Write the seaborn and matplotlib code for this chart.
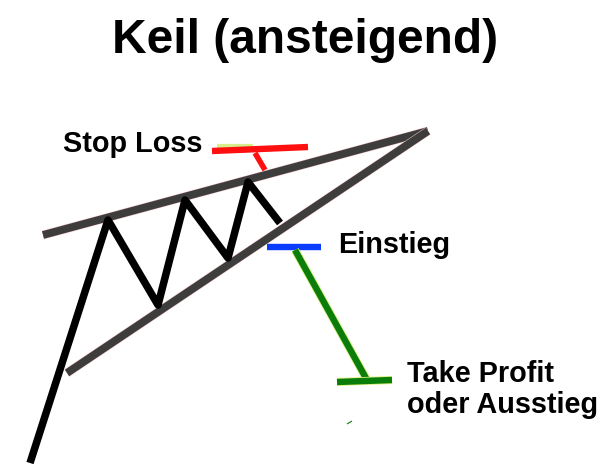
import matplotlib
matplotlib.use("Agg")
import matplotlib.pyplot as plt
import matplotlib.patheffects as pe
import seaborn as sns
import pandas as pd

# pixel-style coordinates of the sketch (y grows downward)
upper_x = [43, 428]
upper_y = [235, 131]
lower_x = [67, 428]
lower_y = [373, 131]

price_x = [30, 108, 158, 185, 228, 248, 280]
price_y = [463, 220, 305, 200, 258, 182, 223]

stop_x = [212, 308]
stop_y = [151, 147]
stop_stem_x = [255, 265]
stop_stem_y = [153, 170]
stop_glow_x = [217, 253]
stop_glow_y = [146, 146]

entry_x = [267, 321]
entry_y = [247, 247]

target_stem_x = [295, 367]
target_stem_y = [250, 380]
target_x = [337, 392]
target_y = [382, 380]
stray_x = [347, 352]
stray_y = [424, 421]

labels = ["Stop Loss", "Einstieg", "Take Profit\noder Ausstieg"]
label_x = [63, 338, 407]
label_y = [152, 253, 413]

title = "Keil (ansteigend)"

sns.set_theme(style="white")
plt.rcParams['font.family'] = ['Liberation Sans', 'DejaVu Sans']

fig = plt.figure(figsize=(6.11, 4.73), dpi=100)
ax = fig.add_axes([0, 0, 1, 1])

halo = [pe.Stroke(linewidth=6.3, foreground="#f3c4c4"), pe.Normal()]
green_glow = [pe.Stroke(linewidth=5.8, foreground="#d8f07a"), pe.Normal()]

def seg(xs, ys, color, lw, effects=None):
    df = pd.DataFrame({"x": xs, "y": ys})
    sns.lineplot(data=df, x="x", y="y", sort=False, estimator=None,
                 color=color, linewidth=lw, ax=ax,
                 solid_capstyle="butt", path_effects=effects)

seg(stop_glow_x, stop_glow_y, "#d6ef8a", 3.0)
seg(upper_x, upper_y, "#3d3d3d", 5.6, halo)
seg(lower_x, lower_y, "#3d3d3d", 5.6, halo)
seg(price_x, price_y, "black", 5.4)
seg(stop_stem_x, stop_stem_y, "#ff1010", 4.0)
seg(stop_x, stop_y, "#ff1010", 4.6)
seg(entry_x, entry_y, "#0a3cff", 4.6)
seg(target_stem_x, target_stem_y, "#0b7d0b", 4.6, green_glow)
seg(target_x, target_y, "#0b7d0b", 4.6, green_glow)
seg(stray_x, stray_y, "#0b7d0b", 0.8)

for t, x, y in zip(labels, label_x, label_y):
    ax.text(x, y, t, fontsize=20.8, fontweight="bold", color="black",
            ha="left", va="baseline", linespacing=1.15)

ax.text(305, 53, title, fontsize=34.5, fontweight="bold", color="black",
        ha="center", va="baseline")

ax.set_xlim(0, 611)
ax.set_ylim(473, 0)
ax.set_axis_off()

fig.savefig("out.png", dpi=100)
